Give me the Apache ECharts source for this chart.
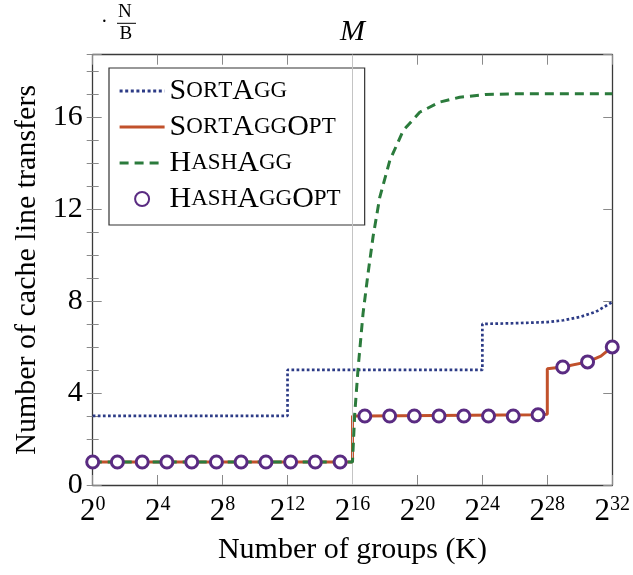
<!DOCTYPE html>
<html>
<head>
<meta charset="utf-8">
<script src="https://cdn.jsdelivr.net/npm/echarts@6/dist/echarts.min.js"></script>
<style>
  html, body { margin: 0; padding: 0; background: #fff; }
  #chart { width: 633px; height: 575px; }
</style>
</head>
<body>
<div id="chart"></div>
<script>
// x values are exponents of 2 (the axis shows 2^x)
const sortAggX = [0, 12, 12, 24, 24, 26, 28, 29, 30, 31, 32];
const sortAggY = [3, 3, 5, 5, 7, 7.03, 7.08, 7.16, 7.3, 7.53, 7.95];

const sortAggOptX = [0, 16, 16, 16.76, 27.43, 28, 28, 28.95, 30.48, 31.3, 32];
const sortAggOptY = [1, 1, 3, 3, 3.05, 3.07, 5.05, 5.13, 5.35, 5.6, 6.0];

const hashAggX = [0, 16, 16.14, 16.35, 16.65, 16.96, 17.27, 17.68, 18.3, 19.12, 20.14, 21.37, 22.6, 24.2, 26, 32];
const hashAggY = [1, 1, 3.1, 5.1, 7.45, 9.2, 10.8, 12.5, 14.1, 15.4, 16.2, 16.64, 16.85, 16.97, 17, 17];

const hashAggOptX = [0, 1.52, 3.05, 4.57, 6.10, 7.62, 9.14, 10.67, 12.19, 13.71, 15.24,
                     16.76, 18.29, 19.81, 21.33, 22.86, 24.38, 25.90, 27.43, 28.95, 30.48, 32];
const hashAggOptY = [1, 1, 1, 1, 1, 1, 1, 1, 1, 1, 1,
                     3, 3, 3, 3, 3, 3, 3, 3.05, 5.13, 5.35, 6.0];

const xTickPowers = [0, 4, 8, 12, 16, 20, 24, 28, 32];
const yTickLabels = [0, 4, 8, 12, 16];
const memoryBoundary = 16;

const FONT = '"Liberation Serif", "DejaVu Serif", serif';

function pairs(xs, ys) { return xs.map((x, i) => [x, ys[i]]); }

// Render a name in small capitals with rich-text tokens
function smallCaps(name) {
  let out = '';
  for (const ch of name) {
    if (ch >= 'A' && ch <= 'Z') out += '{c|' + ch + '}';
    else out += '{s|' + ch.toUpperCase() + '}';
  }
  return out;
}

const COLORS = {
  sortAgg: '#2c3b86',
  sortAggOpt: '#c1512b',
  hashAgg: '#2b7b3c',
  hashAggOpt: '#5a2b82'
};

const chart = echarts.init(document.getElementById('chart'));

const axisLineStyle = { color: '#3a3a3a', width: 1.3 };
const tickStyle = { color: '#8a8a8a', width: 1 };

const yCommon = {
  type: 'value', min: 0, max: 18.7,
  splitLine: { show: false }
};

chart.setOption({
  animation: false,
  backgroundColor: '#fff',
  grid: { left: 92.7, right: 20.3, top: 54.7, bottom: 90, containLabel: false },
  xAxis: [
    {
      type: 'value', min: 0, max: 32, interval: 4, position: 'bottom',
      name: 'Number of groups (K)', nameLocation: 'middle', nameGap: 50,
      nameTextStyle: { fontFamily: FONT, fontSize: 30, color: '#000' },
      axisLine: { show: true, onZero: false, lineStyle: axisLineStyle },
      axisTick: { show: true, inside: true, length: 10, lineStyle: tickStyle },
      splitLine: { show: false },
      axisLabel: {
        margin: 10,
        formatter: v => xTickPowers.includes(v) ? '{b|2}{s|' + v + '}' : '',
        rich: {
          b: { fontFamily: FONT, fontSize: 31, lineHeight: 32, color: '#000', verticalAlign: 'bottom' },
          s: { fontFamily: FONT, fontSize: 20, lineHeight: 20, color: '#000', verticalAlign: 'top' }
        }
      }
    },
    {
      type: 'value', min: 0, max: 32, interval: 4, position: 'top',
      axisLine: { show: true, onZero: false, lineStyle: axisLineStyle },
      axisTick: { show: true, inside: true, length: 10, lineStyle: tickStyle },
      axisLabel: { show: false },
      splitLine: { show: false }
    }
  ],
  yAxis: [
    Object.assign({}, yCommon, {
      position: 'left', interval: 4,
      name: 'Number of cache line transfers', nameLocation: 'middle', nameGap: 46,
      nameTextStyle: { fontFamily: FONT, fontSize: 30, color: '#000' },
      axisLine: { show: true, onZero: false, lineStyle: axisLineStyle },
      axisTick: { show: true, inside: true, length: 9, lineStyle: tickStyle },
      axisLabel: {
        margin: 10, fontFamily: FONT, fontSize: 30, color: '#000',
        formatter: v => yTickLabels.includes(v) ? String(v) : ''
      }
    }),
    Object.assign({}, yCommon, {
      position: 'left', interval: 1,
      axisLine: { show: false },
      axisTick: { show: true, inside: true, length: 6, lineStyle: tickStyle },
      axisLabel: { show: false }
    }),
    Object.assign({}, yCommon, {
      position: 'right', interval: 4,
      axisLine: { show: true, onZero: false, lineStyle: axisLineStyle },
      axisTick: { show: true, inside: true, length: 9, lineStyle: tickStyle },
      axisLabel: { show: false }
    }),
    Object.assign({}, yCommon, {
      position: 'right', interval: 1,
      axisLine: { show: false },
      axisTick: { show: true, inside: true, length: 6, lineStyle: tickStyle },
      axisLabel: { show: false }
    })
  ],
  legend: {
    orient: 'vertical',
    left: 109, top: 68,
    padding: [8, 24, 11, 9],
    itemGap: 6,
    itemWidth: 45, itemHeight: 14,
    backgroundColor: '#fff',
    borderColor: '#333', borderWidth: 1.2, borderRadius: 0,
    data: [
      { name: 'SortAgg', itemStyle: { opacity: 0 }, lineStyle: { width: 3, type: [3, 2.6] } },
      { name: 'SortAggOpt', itemStyle: { opacity: 0 }, lineStyle: { width: 3.2 } },
      { name: 'HashAgg', itemStyle: { opacity: 0 }, lineStyle: { width: 3.2, type: [9, 6] } },
      { name: 'HashAggOpt' }
    ],
    formatter: smallCaps,
    textStyle: {
      color: '#000',
      rich: {
        c: { fontFamily: FONT, fontSize: 30, lineHeight: 29, color: '#000' },
        s: { fontFamily: FONT, fontSize: 23, lineHeight: 29, color: '#000' }
      }
    }
  },
  graphic: [
    { type: 'text', left: 101, top: 13, style: { text: '·', font: '20px ' + FONT, fill: '#000' } },
    { type: 'text', left: 118, top: 3, style: { text: 'N', font: '19px ' + FONT, fill: '#000' } },
    { type: 'line', shape: { x1: 117, y1: 23.3, x2: 136, y2: 23.3 }, style: { stroke: '#000', lineWidth: 1 } },
    { type: 'text', left: 119.5, top: 25, style: { text: 'B', font: '19px ' + FONT, fill: '#000' } }
  ],
  series: [
    {
      name: 'boundary', type: 'line', data: [], z: 1,
      markLine: {
        silent: true, symbol: ['none', 'none'],
        lineStyle: { color: '#c4c4c4', width: 1, type: 'solid' },
        label: {
          show: true, position: 'end', distance: 8, formatter: 'M',
          fontFamily: FONT, fontStyle: 'italic', fontSize: 30, color: '#000'
        },
        data: [{ xAxis: memoryBoundary }]
      }
    },
    {
      name: 'SortAgg', type: 'line', symbol: 'none', z: 3,
      data: pairs(sortAggX, sortAggY),
      lineStyle: { color: COLORS.sortAgg, width: 2.7, type: [2.7, 2.4] },
      itemStyle: { color: COLORS.sortAgg }
    },
    {
      name: 'SortAggOpt', type: 'line', symbol: 'none', z: 4,
      data: pairs(sortAggOptX, sortAggOptY),
      lineStyle: { color: COLORS.sortAggOpt, width: 3 },
      itemStyle: { color: COLORS.sortAggOpt }
    },
    {
      name: 'HashAgg', type: 'line', symbol: 'none', z: 5,
      data: pairs(hashAggX, hashAggY),
      lineStyle: { color: COLORS.hashAgg, width: 3, type: [9, 6] },
      itemStyle: { color: COLORS.hashAgg }
    },
    {
      name: 'HashAggOpt', type: 'scatter', symbol: 'circle', symbolSize: 12, z: 6,
      data: pairs(hashAggOptX, hashAggOptY),
      itemStyle: { color: '#fff', borderColor: COLORS.hashAggOpt, borderWidth: 3, opacity: 1 }
    }
  ]
});
</script>
</body>
</html>
